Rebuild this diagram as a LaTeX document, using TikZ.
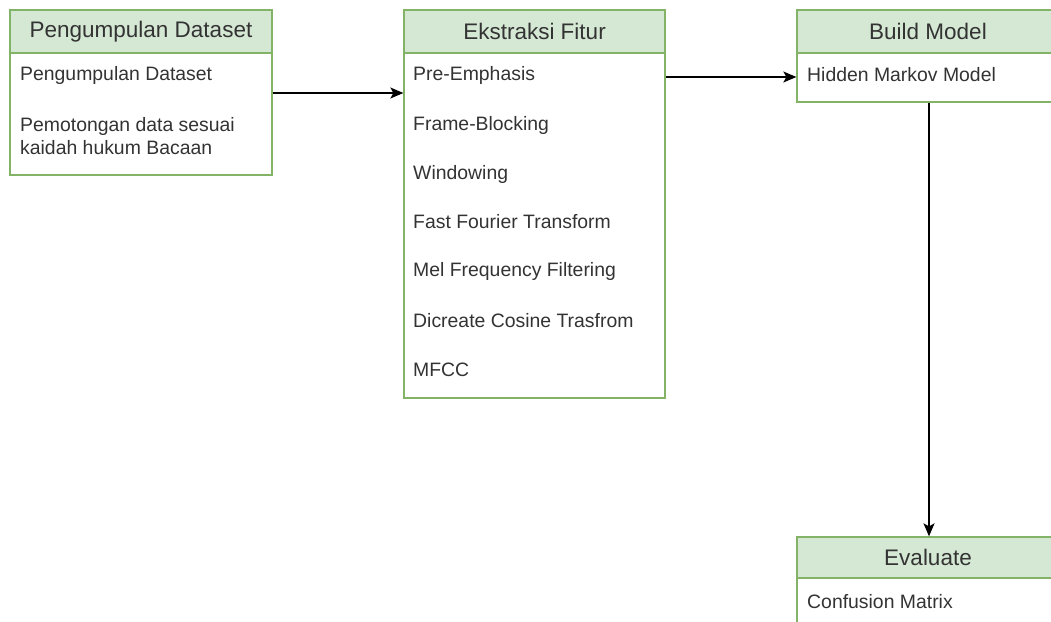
\documentclass[tikz,border=0pt]{standalone}
\usepackage{fontspec}
\setmainfont{Liberation Sans}
\usetikzlibrary{arrows.meta}
\definecolor{hfill}{HTML}{D5E8D4}
\definecolor{hline}{HTML}{82B366}
\definecolor{txt}{HTML}{333333}
\tikzset{
  hdr/.style={draw=hline, fill=hfill, line width=1.3pt, inner sep=0pt, text=txt,
    font=\fontsize{22.5pt}{26pt}\selectfont},
  bdy/.style={draw=hline, fill=white, line width=1.3pt, inner sep=0pt},
  item/.style={anchor=west, inner sep=0pt, text=txt, font=\fontsize{19.4pt}{22.5pt}\selectfont, align=left},
  arr/.style={draw=black, line width=1.4pt, -{Stealth[length=13pt,width=11pt,inset=3pt]}}
}
\begin{document}
\begin{tikzpicture}[x=1pt,y=-1pt]
\useasboundingbox (0,0) rectangle (1051,621);
\clip (0,0) rectangle (1051,621);
% Box 1
\node[bdy, minimum width=262pt, minimum height=122pt] (b1) at (141,114) {};
\node[hdr, minimum width=262pt, minimum height=43pt] (h1) at (141,31.5) {Pengumpulan Dataset};
\node[item] (i11) at (20,75) {Pengumpulan Dataset};
\node[item] (i12) at (20,136) {Pemotongan data sesuai\\kaidah hukum Bacaan};
% Box 2
\node[bdy, minimum width=261pt, minimum height=345pt] (b2) at (534.5,225.5) {};
\node[hdr, minimum width=261pt, minimum height=43pt] (h2) at (534.5,31.5) {Ekstraksi Fitur};
\node[item] (i21) at (413,75) {Pre-Emphasis};
\node[item] (i22) at (413,125) {Frame-Blocking};
\node[item] (i23) at (413,174) {Windowing};
\node[item] (i24) at (413,222) {Fast Fourier Transform};
\node[item] (i25) at (413,271) {Mel Frequency Filtering};
\node[item] (i26) at (413,321) {Dicreate Cosine Trasfrom};
\node[item] (i27) at (413,370) {MFCC};
% Box 3
\node[bdy, minimum width=262pt, minimum height=49pt] (b3) at (928,77.5) {};
\node[hdr, minimum width=262pt, minimum height=43pt] (h3) at (928,31.5) {Build Model};
\node[item] (i31) at (807,75) {Hidden Markov Model};
% Box 4
\node[bdy, minimum width=262pt, minimum height=70pt] (b4) at (928,613) {};
\node[hdr, minimum width=262pt, minimum height=41pt] (h4) at (928,557.5) {Evaluate};
\node[item] (i41) at (807,602) {Confusion Matrix};
% Connectors
\draw[arr] ([yshift=21pt]b1.east) -- ([yshift=132.5pt]b2.west);
\draw[arr] ([yshift=0.5pt]b2.east |- b3.west) -- ([yshift=0.5pt]b3.west);
\draw[arr] ([xshift=1pt]b3.south) -- ([xshift=1pt]h4.north);
\end{tikzpicture}
\end{document}
